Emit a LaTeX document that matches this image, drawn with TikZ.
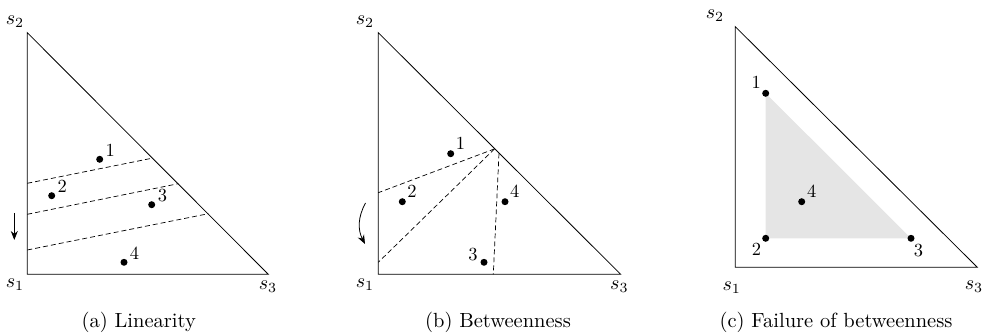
\documentclass[tikz,border=0pt]{standalone}
\usetikzlibrary{arrows.meta, positioning, calc}

\begin{document}
\begin{tikzpicture}[
    x=1pt, y=-1pt,
    edge/.style={line width=0.8pt, line join=miter},
    cut/.style={dashed, dash pattern=on 5pt off 3pt, line width=0.7pt},
    dot/.style={circle, fill=black, inner sep=0pt, minimum size=7pt},
    num/.style={scale=1.85, transform shape, inner sep=0.3pt},
    vtx/.style={scale=2, transform shape, inner sep=0pt},
    subcap/.style={scale=2.05, transform shape, anchor=base},
    arrow/.style={-{Stealth[length=9pt, width=7pt]}, line width=0.8pt},
    label distance=1pt,
]
\useasboundingbox (0,0) rectangle (983,336);

% ===== (a) Linearity =====
\coordinate (a-s1) at (27.3, 274.3);
\coordinate (a-s2) at (27.3, 32.7);
\coordinate (a-s3) at (268.3, 274.3);
\draw[edge] (a-s1) -- (a-s2) -- (a-s3) -- cycle;
\node[vtx] (a-l2) at (15, 22)   {$s_2$};
\node[vtx] (a-l1) at (15, 285)  {$s_1$};
\node[vtx] (a-l3) at (268, 287) {$s_3$};

\coordinate (a-c1) at (27.3, 183.3);  \coordinate (a-d1) at (152.7, 158.1);
\coordinate (a-c2) at (27.3, 214.3);  \coordinate (a-d2) at (178.3, 183.7);
\coordinate (a-c3) at (27.3, 250.0);  \coordinate (a-d3) at (208.3, 213.7);
\draw[cut] (a-c1) -- (a-d1);
\draw[cut] (a-c2) -- (a-d2);
\draw[cut] (a-c3) -- (a-d3);

\node[dot, label={[num]25:1}] (a1) at (99.7, 159.3)  {};
\node[dot, label={[num]25:2}] (a2) at (51.7, 195.7)  {};
\node[dot, label={[num]15:3}] (a3) at (151.7, 204.7) {};
\node[dot, label={[num]25:4}] (a4) at (124, 262.3)   {};

\coordinate (a-up) at (14.3, 213);
\coordinate (a-dn) at (14.3, 240);
\draw[arrow] (a-up) -- (a-dn);

\node[subcap] (a-cap) at (138.7, 328) {(a) Linearity};

% ===== (b) Betweenness =====
\coordinate (b-s1) at (378.3, 274.3);
\coordinate (b-s2) at (378.3, 32.7);
\coordinate (b-s3) at (620.7, 274.3);
\draw[edge] (b-s1) -- (b-s2) -- (b-s3) -- cycle;
\node[vtx] (b-l2) at (365, 22)    {$s_2$};
\node[vtx] (b-l1) at (365, 285)   {$s_1$};
\node[vtx] (b-l3) at (619.3, 287) {$s_3$};

\coordinate (b-hub) at (494.5, 148.9);
\coordinate (b-top) at (499.0, 153.4);
\coordinate (b-c1)  at (378.3, 192.7);
\coordinate (b-c2)  at (378.3, 262.3);
\coordinate (b-c3)  at (493.3, 274.3);
\draw[cut] (b-hub) -- (b-c1);
\draw[cut] (b-hub) -- (b-c2);
\draw[cut] (b-top) -- (b-c3);

\node[dot, label={[num]40:1}]  (b1) at (450.7, 153.7) {};
\node[dot, label={[num]40:2}]  (b2) at (402.3, 201.7) {};
\node[dot, label={[num]170:3}] (b3) at (484, 262.3)   {};
\node[dot, label={[num]40:4}]  (b4) at (505, 201.7)   {};

\coordinate (b-up) at (365.5, 203);
\coordinate (b-dn) at (365, 244);
\draw[arrow] (b-up) to[bend right=28] (b-dn);

\node[subcap] (b-cap) at (498, 328) {(b) Betweenness};

% ===== (c) Failure of betweenness =====
\coordinate (c-s1) at (735.3, 267.3);
\coordinate (c-s2) at (735.3, 26.7);
\coordinate (c-s3) at (977.3, 267.3);
\draw[edge] (c-s1) -- (c-s2) -- (c-s3) -- cycle;
\node[vtx] (c-l2) at (715, 16)      {$s_2$};
\node[vtx] (c-l1) at (731.7, 288)   {$s_1$};
\node[vtx] (c-l3) at (974, 286.7)   {$s_3$};

\coordinate (c-p1) at (765.7, 93.3);
\coordinate (c-p2) at (765.7, 238.3);
\coordinate (c-p3) at (911, 238.3);
\fill[black!10] (c-p1) -- (c-p2) -- (c-p3) -- cycle;

\node[dot, label={[num]135:1}] (c1) at (c-p1) {};
\node[dot, label={[num]230:2}] (c2) at (c-p2) {};
\node[dot, label={[num]290:3}] (c3) at (c-p3) {};
\node[dot, label={[num]38:4}]  (c4) at (801.7, 201.7) {};

\node[subcap] (c-cap) at (836, 328) {(c) Failure of betweenness};
\end{tikzpicture}
\end{document}
